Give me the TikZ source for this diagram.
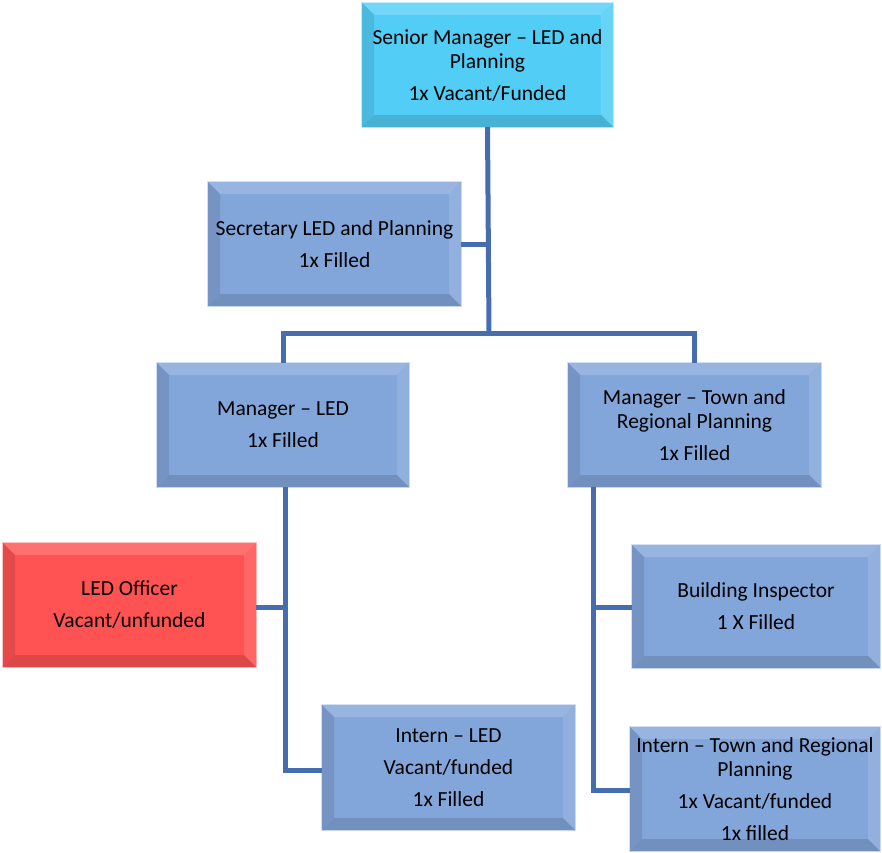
\documentclass[tikz,border=0pt]{standalone}
\usepackage{fontspec}
\setmainfont{Carlito}
\pgfdeclarelayer{bg}
\pgfsetlayers{bg,main}
\definecolor{boxblue}{RGB}{130,165,218}
\definecolor{boxcyan}{RGB}{82,205,245}
\definecolor{boxred}{RGB}{255,82,82}
\definecolor{linkblue}{RGB}{70,110,175}
\tikzset{
  boxtext/.style={align=center, inner sep=0pt, outer sep=0pt, font=\fontsize{21.5}{24}\selectfont, text=black},
  link/.style={draw=linkblue, line width=5pt}
}
\newcommand\orgbox[7]{%
  \node[boxtext, minimum width={#4pt-#2pt}, minimum height={#5pt-#3pt}] (#1) at ({(#2+#4)/2},{(#3+#5)/2}) {#7};
  \begin{pgfonlayer}{bg}
    \draw[#6!35!white, line width=2.5pt] (#1.north west) rectangle (#1.south east);
    \fill[#6] (#1.north west) rectangle (#1.south east);
    \fill[#6!82!white] (#1.north west) -- (#1.north east) -- ([shift={(-12,12)}]#1.north east) -- ([shift={(12,12)}]#1.north west) -- cycle;
    \fill[#6!88!white] (#1.north east) -- (#1.south east) -- ([shift={(-12,-12)}]#1.south east) -- ([shift={(-12,12)}]#1.north east) -- cycle;
    \fill[#6!90!black] (#1.north west) -- (#1.south west) -- ([shift={(12,-12)}]#1.south west) -- ([shift={(12,12)}]#1.north west) -- cycle;
    \fill[#6!87!black] (#1.south west) -- (#1.south east) -- ([shift={(-12,-12)}]#1.south east) -- ([shift={(12,-12)}]#1.south west) -- cycle;
  \end{pgfonlayer}}
\begin{document}
\begin{tikzpicture}[x=1pt,y=-1pt]
\useasboundingbox (0,0) rectangle (882,852);
\orgbox{sm}{362}{3}{613}{127}{boxcyan}{Senior Manager -- LED and\\Planning\\[8pt]1x Vacant/Funded}
\orgbox{sec}{208}{182}{461}{306}{boxblue}{Secretary LED and Planning\\[8pt]1x Filled}
\orgbox{mled}{157}{363}{409}{487}{boxblue}{Manager -- LED\\[8pt]1x Filled}
\orgbox{mtown}{568}{363}{821}{487}{boxblue}{Manager -- Town and\\Regional Planning\\[8pt]1x Filled}
\orgbox{off}{3}{543}{256}{667}{boxred}{LED Officer\\[8pt]Vacant/unfunded}
\orgbox{bi}{632}{545}{880}{668}{boxblue}{Building Inspector\\[8pt]1 X Filled}
\orgbox{iled}{322}{705}{575}{830}{boxblue}{Intern -- LED\\[8pt]Vacant/funded\\[8pt]1x Filled}
\orgbox{itown}{630}{727}{880}{851}{boxblue}{Intern -- Town and Regional\\Planning\\[8pt]1x Vacant/funded\\[8pt]1x filled}
% connectors
\coordinate (j1) at (489,333);
\coordinate (j2) at (489,244);
\coordinate (l1) at (285,607);
\coordinate (l2) at (285,770);
\coordinate (mtb) at (593,487);
\coordinate (r1) at (593,607);
\coordinate (r2) at (593,790);
\begin{pgfonlayer}{bg}
\draw[link] (sm.south) -- (j1);
\draw[link] (sec.east |- j2) -- (j2);
\draw[link] (mled.north) |- (j1) -| (mtown.north);
\draw[link] (mled.south -| l1) -- (l2) -- (iled.west |- l2);
\draw[link] (off.east |- l1) -- (l1);
\draw[link] (mtb) -- (r2) -- (itown.west |- r2);
\draw[link] (r1) -- (bi.west |- r1);
\end{pgfonlayer}
\end{tikzpicture}
\end{document}
